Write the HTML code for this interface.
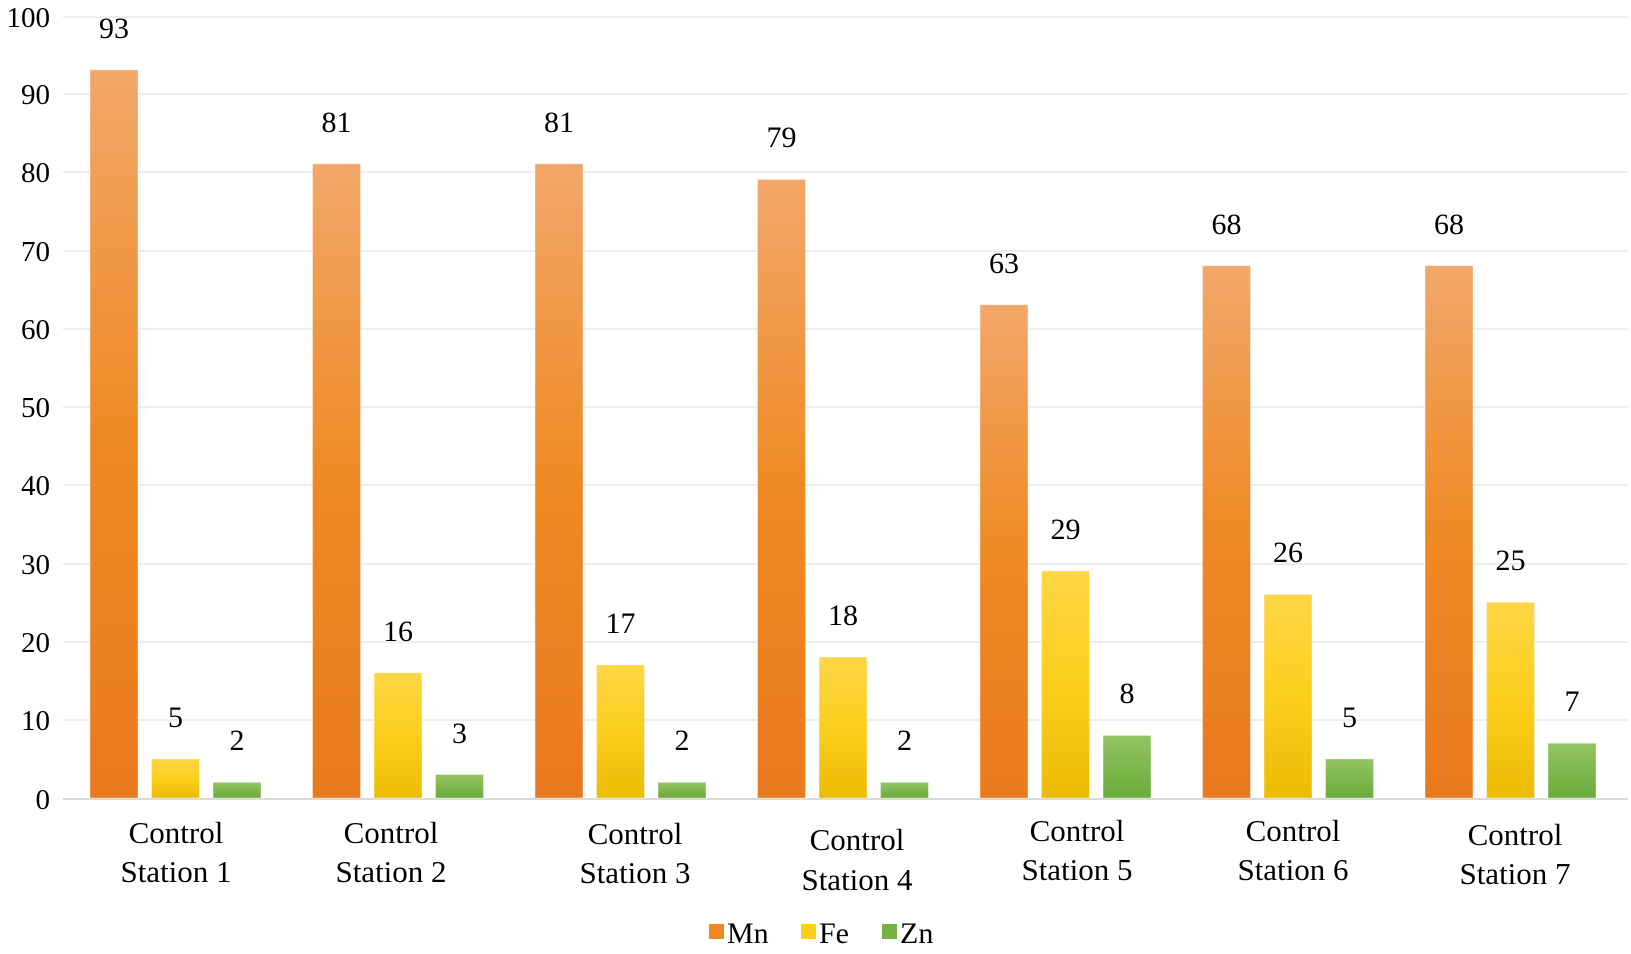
<!DOCTYPE html>
<html><head><style>body{margin:0;background:#fff}</style></head><body>
<svg width="1631" height="949" xmlns="http://www.w3.org/2000/svg" font-family="Liberation Serif, serif">
<defs>
<linearGradient id="o" x1="0" y1="0" x2="0" y2="1"><stop offset="0" stop-color="#f2a76a"/><stop offset="0.5" stop-color="#ee8a24"/><stop offset="1" stop-color="#e97a1e"/></linearGradient>
<linearGradient id="y" x1="0" y1="0" x2="0" y2="1"><stop offset="0" stop-color="#fdd646"/><stop offset="0.5" stop-color="#fbcf1c"/><stop offset="1" stop-color="#ecbb05"/></linearGradient>
<linearGradient id="g" x1="0" y1="0" x2="0" y2="1"><stop offset="0" stop-color="#93c462"/><stop offset="1" stop-color="#6aab3a"/></linearGradient>
</defs>
<g stroke="#eeeef2" stroke-width="2">
<line x1="63" x2="1628" y1="17" y2="17"/><line x1="63" x2="1628" y1="94" y2="94"/><line x1="63" x2="1628" y1="172" y2="172"/><line x1="63" x2="1628" y1="251" y2="251"/><line x1="63" x2="1628" y1="329" y2="329"/><line x1="63" x2="1628" y1="407" y2="407"/><line x1="63" x2="1628" y1="485" y2="485"/><line x1="63" x2="1628" y1="564" y2="564"/><line x1="63" x2="1628" y1="642" y2="642"/><line x1="63" x2="1628" y1="720" y2="720"/>
</g>
<line x1="63" x2="1628" y1="799" y2="799" stroke="#d9d9d9" stroke-width="2"/>
<g font-size="29" text-anchor="end" fill="#000">
<text x="50" y="27">100</text><text x="50" y="104">90</text><text x="50" y="182">80</text><text x="50" y="261">70</text><text x="50" y="339">60</text><text x="50" y="417">50</text><text x="50" y="495">40</text><text x="50" y="574">30</text><text x="50" y="652">20</text><text x="50" y="730">10</text><text x="50" y="809">0</text>
</g>
<g stroke="#fff" stroke-opacity="0.4">
<rect x="90" y="69.8" width="48" height="728.2" fill="url(#o)"/>
<rect x="151.5" y="758.9" width="48" height="39.1" fill="url(#y)"/>
<rect x="213" y="782.3" width="48" height="15.7" fill="url(#g)"/>
<rect x="312.5" y="163.8" width="48" height="634.2" fill="url(#o)"/>
<rect x="374" y="672.7" width="48" height="125.3" fill="url(#y)"/>
<rect x="435.5" y="774.5" width="48" height="23.5" fill="url(#g)"/>
<rect x="535" y="163.8" width="48" height="634.2" fill="url(#o)"/>
<rect x="596.5" y="664.9" width="48" height="133.1" fill="url(#y)"/>
<rect x="658" y="782.3" width="48" height="15.7" fill="url(#g)"/>
<rect x="757.5" y="179.4" width="48" height="618.6" fill="url(#o)"/>
<rect x="819" y="657.1" width="48" height="140.9" fill="url(#y)"/>
<rect x="880.5" y="782.3" width="48" height="15.7" fill="url(#g)"/>
<rect x="980" y="304.7" width="48" height="493.3" fill="url(#o)"/>
<rect x="1041.5" y="570.9" width="48" height="227.1" fill="url(#y)"/>
<rect x="1103" y="735.4" width="48" height="62.6" fill="url(#g)"/>
<rect x="1202.5" y="265.6" width="48" height="532.4" fill="url(#o)"/>
<rect x="1264" y="594.4" width="48" height="203.6" fill="url(#y)"/>
<rect x="1325.5" y="758.9" width="48" height="39.1" fill="url(#g)"/>
<rect x="1425" y="265.6" width="48" height="532.4" fill="url(#o)"/>
<rect x="1486.5" y="602.3" width="48" height="195.7" fill="url(#y)"/>
<rect x="1548" y="743.2" width="48" height="54.8" fill="url(#g)"/>
</g>
<g font-size="30" text-anchor="middle">
<text x="114" y="38">93</text><text x="175.5" y="727">5</text><text x="237" y="750">2</text>
<text x="336.5" y="132">81</text><text x="398" y="641">16</text><text x="459.5" y="743">3</text>
<text x="559" y="132">81</text><text x="620.5" y="633">17</text><text x="682" y="750">2</text>
<text x="781.5" y="147">79</text><text x="843" y="625">18</text><text x="904.5" y="750">2</text>
<text x="1004" y="273">63</text><text x="1065.5" y="539">29</text><text x="1127" y="703">8</text>
<text x="1226.5" y="234">68</text><text x="1288" y="562">26</text><text x="1349.5" y="727">5</text>
<text x="1449" y="234">68</text><text x="1510.5" y="570">25</text><text x="1572" y="711">7</text>
</g>
<g font-size="31" text-anchor="middle">
<text x="176" y="843">Control</text><text x="176" y="882">Station 1</text>
<text x="391" y="843">Control</text><text x="391" y="882">Station 2</text>
<text x="635" y="844">Control</text><text x="635" y="883">Station 3</text>
<text x="857" y="850">Control</text><text x="857" y="890">Station 4</text>
<text x="1077" y="841">Control</text><text x="1077" y="880">Station 5</text>
<text x="1293" y="841">Control</text><text x="1293" y="880">Station 6</text>
<text x="1515" y="845">Control</text><text x="1515" y="884">Station 7</text>
</g>
<g font-size="30">
<rect x="709" y="924" width="15" height="15" fill="#ee8a24"/><text x="727" y="943">Mn</text>
<rect x="801" y="924" width="15" height="15" fill="#fbcf1c"/><text x="819" y="943">Fe</text>
<rect x="882" y="924" width="15" height="15" fill="#74b043"/><text x="900" y="943">Zn</text>
</g>
</svg>
</body></html>
